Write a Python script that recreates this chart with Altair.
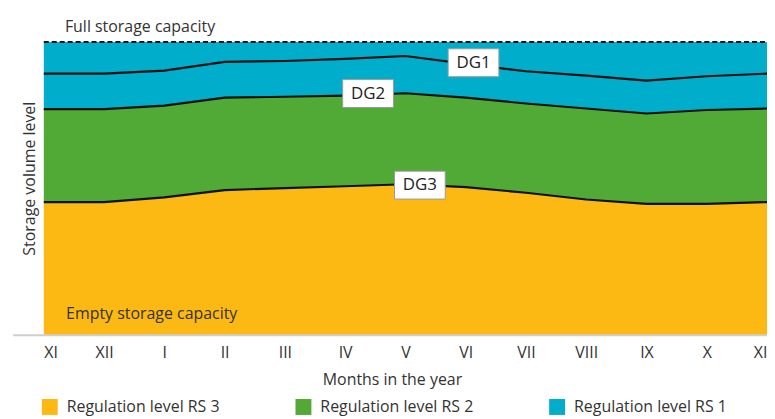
import altair as alt
import pandas as pd

months = ["XI", "XII", "I", "II", "III", "IV", "V", "VI", "VII", "VIII", "IX", "X", "XI"]
month_idx = list(range(13))
dg1 = [89.2, 89.2, 90.2, 93.2, 93.5, 94.2, 95.2, 92.5, 90.0, 88.5, 86.8, 88.3, 89.2]
dg2 = [77.1, 77.1, 78.3, 81.0, 81.3, 81.7, 82.5, 81.0, 79.0, 77.3, 75.6, 76.8, 77.3]
dg3 = [45.4, 45.4, 47.0, 49.5, 50.2, 50.8, 51.5, 50.5, 48.6, 46.3, 44.8, 44.8, 45.4]
full_level = 100
levels = ["Regulation level RS 3", "Regulation level RS 2", "Regulation level RS 1"]
level_colors = ["#FDB913", "#50AA35", "#00AECB"]

label_names = ["DG1", "DG2", "DG3"]
label_x = [7.13, 5.38, 6.24]
label_y = [92.9, 82.4, 51.2]

note_text = ["Full storage capacity", "Empty storage capacity"]
note_x = [0.35, 0.37]
note_y = [105.2, 7.1]

base_x = [-0.51, 12]
base_y = [0, 0]

rows = []
for i, m in enumerate(month_idx):
    rows.append({"m": m, "lo": 0, "hi": dg3[i], "level": levels[0]})
    rows.append({"m": m, "lo": dg3[i], "hi": dg2[i], "level": levels[1]})
    rows.append({"m": m, "lo": dg2[i], "hi": full_level, "level": levels[2]})
area_df = pd.DataFrame(rows)

line_rows = []
for name, vals in [("DG1", dg1), ("DG2", dg2), ("DG3", dg3)]:
    for i, m in enumerate(month_idx):
        line_rows.append({"m": m, "v": vals[i], "g": name})
line_df = pd.DataFrame(line_rows)

full_df = pd.DataFrame({"m": [month_idx[0], month_idx[-1]], "v": [full_level, full_level]})
lab_df = pd.DataFrame({"name": label_names, "x": label_x, "y": label_y})
note_df = pd.DataFrame({"t": note_text, "x": note_x, "y": note_y})
base_df = pd.DataFrame({"m": base_x, "v": base_y})

FONT = "Open Sans"
label_expr = "[" + ",".join(f"'{m}'" for m in months) + "][datum.value]"

xscale = alt.Scale(domain=[0, 12], nice=False, zero=False)
yscale = alt.Scale(domain=[0, 100], nice=False)

x_axis = alt.Axis(values=month_idx, labelExpr=label_expr, grid=False, ticks=False,
                  domain=False, labelFontSize=16, labelColor="#333333",
                  labelFont=FONT, labelPadding=9, title="Months in the year", titleFont=FONT,
                  titleFontSize=16, titleFontWeight="normal", titleColor="#333333",
                  titlePadding=11, titleX=350)
y_axis = alt.Axis(labels=False, ticks=False, domain=False, grid=False,
                  title="Storage volume level", titleFont=FONT, titleFontSize=16,
                  titleFontWeight="normal", titleColor="#333333", titlePadding=6, titleY=137)

areas = alt.Chart(area_df).mark_area(interpolate="linear", opacity=1).encode(
    x=alt.X("m:Q", scale=xscale, axis=x_axis),
    y=alt.Y("lo:Q", scale=yscale, axis=y_axis, stack=None),
    y2="hi:Q",
    color=alt.Color("level:N", scale=alt.Scale(domain=levels, range=level_colors),
                    sort=levels,
                    legend=alt.Legend(title=None, orient="none", legendX=-2, legendY=359,
                                      direction="horizontal", symbolType="square",
                                      symbolSize=256, symbolStrokeWidth=0, symbolOpacity=1,
                                      labelFontSize=16, labelFont=FONT, labelColor="#333333",
                                      labelOffset=9, columnPadding=76, gridAlign="all",
                                      labelLimit=300)),
    order=alt.Order("level:N"),
)

baseline = alt.Chart(base_df).mark_line(color="#cfcfcf", strokeWidth=2, clip=False).encode(
    x=alt.X("m:Q", scale=xscale),
    y=alt.Y("v:Q", scale=yscale),
)

lines = alt.Chart(line_df).mark_line(color="#111111", strokeWidth=2.2).encode(
    x=alt.X("m:Q", scale=xscale),
    y=alt.Y("v:Q", scale=yscale),
    detail="g:N",
)

full_line = alt.Chart(full_df).mark_line(color="#111111", strokeWidth=2, strokeDash=[5, 3]).encode(
    x=alt.X("m:Q", scale=xscale),
    y=alt.Y("v:Q", scale=yscale),
)

box_path = "M-1,-0.55L1,-0.55L1,0.55L-1,0.55Z"
boxes = alt.Chart(lab_df).mark_point(shape=box_path, size=2601, filled=True, fill="white",
                                     stroke="#9a9a9a", strokeWidth=1, opacity=1).encode(
    x=alt.X("x:Q", scale=xscale),
    y=alt.Y("y:Q", scale=yscale),
)
box_text = alt.Chart(lab_df).mark_text(font=FONT, fontSize=17, color="#222222",
                                       align="center", baseline="middle").encode(
    x=alt.X("x:Q", scale=xscale),
    y=alt.Y("y:Q", scale=yscale),
    text="name:N",
)

notes = alt.Chart(note_df).mark_text(font=FONT, fontSize=16, color="#333333", align="left",
                                     baseline="middle", clip=False).encode(
    x=alt.X("x:Q", scale=xscale),
    y=alt.Y("y:Q", scale=yscale),
    text="t:N",
)

chart = alt.layer(areas, baseline, lines, full_line, boxes, box_text, notes).properties(
    width=727, height=295,
    autosize=alt.AutoSizeParams(type="none"),
    padding={"left": 36, "top": 33, "right": 0, "bottom": 80},
).configure_view(stroke=None)

chart.save("out.html", embed_options={"renderer": "svg", "actions": False})
